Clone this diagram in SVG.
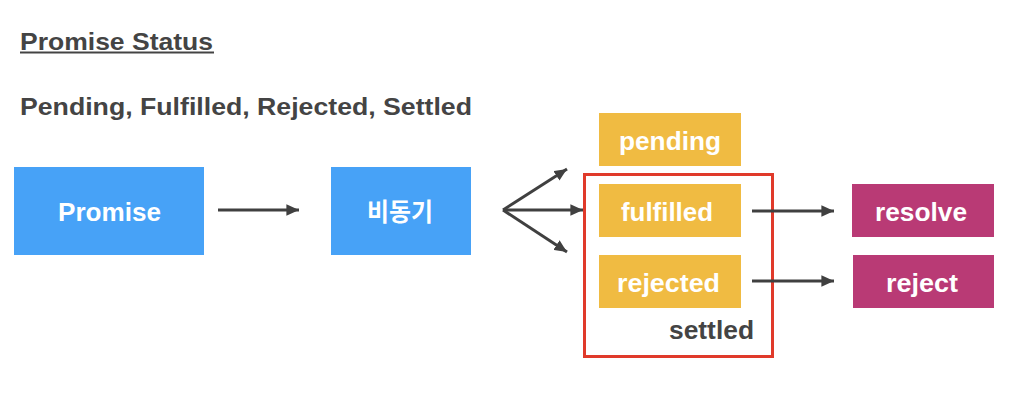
<svg xmlns="http://www.w3.org/2000/svg" width="1028" height="408" viewBox="0 0 1028 408">
<defs>
<style>
.t{font-family:"Liberation Sans",Arial,"Noto Sans CJK KR",sans-serif;font-weight:bold;}
.w{fill:#ffffff;font-size:25px;text-anchor:middle;}
.d{fill:#444444;}
.blue{fill:#47A2F7;}
.yel{fill:#F0BB42;}
.mag{fill:#B93A75;}
.ln{stroke:#404040;stroke-width:3;fill:none;}
</style>
<marker id="ah" viewBox="0 0 10 9" refX="10" refY="4.5" markerWidth="4.2" markerHeight="3.8" markerUnits="strokeWidth" orient="auto">
<path d="M0,0 L10,4.5 L0,9 Z" fill="#404040"/>
</marker>
</defs>
<rect width="1028" height="408" fill="#ffffff"/>
<g id="title">
<text class="t d" x="20" y="49.5" font-size="24" textLength="193" lengthAdjust="spacingAndGlyphs">Promise Status</text>
<rect x="20" y="51.5" width="194" height="2" fill="#444444"/>
<text class="t d" x="20" y="114.5" font-size="24.5" textLength="452" lengthAdjust="spacingAndGlyphs">Pending, Fulfilled, Rejected, Settled</text>
</g>
<g id="node-promise">
<rect class="blue" x="14" y="167" width="190" height="88"/>
<text class="t w" x="109.5" y="221" textLength="103" lengthAdjust="spacingAndGlyphs">Promise</text>
</g>
<g id="node-async">
<rect class="blue" x="331" y="167" width="140" height="88"/>
<text class="t w" x="400" y="221" textLength="66" lengthAdjust="spacingAndGlyphs">비동기</text>
</g>
<g id="node-settled">
<rect x="584.5" y="174.5" width="188" height="182" fill="none" stroke="#E03A2A" stroke-width="3"/>
<text class="t d" x="669" y="338.5" font-size="25" textLength="85" lengthAdjust="spacingAndGlyphs">settled</text>
</g>
<g id="node-pending">
<rect class="yel" x="599" y="113" width="142" height="53"/>
<text class="t w" x="670" y="149.5" textLength="102" lengthAdjust="spacingAndGlyphs">pending</text>
</g>
<g id="node-fulfilled">
<rect class="yel" x="599" y="184" width="142" height="53"/>
<text class="t w" x="667" y="220.5" textLength="92" lengthAdjust="spacingAndGlyphs">fulfilled</text>
</g>
<g id="node-rejected">
<rect class="yel" x="599" y="255" width="142" height="53"/>
<text class="t w" x="668.5" y="291.5" textLength="103" lengthAdjust="spacingAndGlyphs">rejected</text>
</g>
<g id="node-resolve">
<rect class="mag" x="852" y="184" width="142" height="53"/>
<text class="t w" x="921" y="220.5" textLength="92" lengthAdjust="spacingAndGlyphs">resolve</text>
</g>
<g id="node-reject">
<rect class="mag" x="853" y="255" width="141" height="53"/>
<text class="t w" x="922" y="291.5" textLength="72" lengthAdjust="spacingAndGlyphs">reject</text>
</g>
<g id="connectors">
<line class="ln" x1="218" y1="210" x2="299" y2="210" marker-end="url(#ah)"/>
<line class="ln" x1="503" y1="210" x2="567" y2="169" marker-end="url(#ah)"/>
<line class="ln" x1="503" y1="210" x2="583" y2="210" marker-end="url(#ah)"/>
<line class="ln" x1="503" y1="210" x2="567" y2="252" marker-end="url(#ah)"/>
<line class="ln" x1="752" y1="211" x2="834" y2="211" marker-end="url(#ah)"/>
<line class="ln" x1="752" y1="281" x2="834" y2="281" marker-end="url(#ah)"/>
</g>
</svg>
